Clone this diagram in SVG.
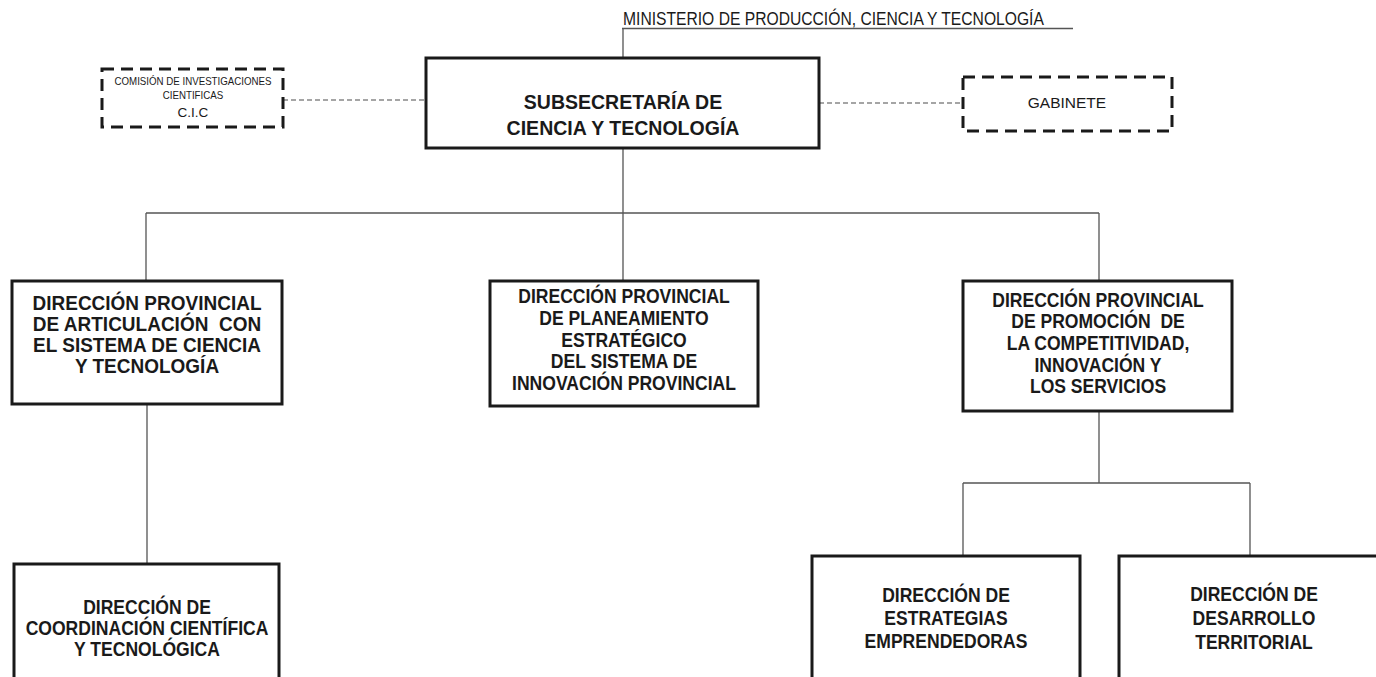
<svg xmlns="http://www.w3.org/2000/svg" width="1376" height="677" viewBox="0 0 1376 677">
<style>
.box{fill:#fff;stroke:#1a1a1a;stroke-width:3}
.dbox{fill:#fff;stroke:#1a1a1a;stroke-width:3;stroke-dasharray:12 7}
.ln{fill:none;stroke:#555;stroke-width:1.3}
.dl{fill:none;stroke:#888;stroke-width:1.5;stroke-dasharray:5 3}
.t{font-family:"Liberation Sans",Arial,sans-serif;font-weight:bold;fill:#1a1a1a;text-anchor:middle}
.r{font-family:"Liberation Sans",Arial,sans-serif;fill:#1a1a1a;text-anchor:middle}
.n{font-size:19.5px}
</style>
<rect width="1376" height="677" fill="#fff"/>
<g id="connectors">
<path class="ln" d="M622 28.5H1073M623 28.5V58"/>
<path class="ln" d="M623 148V281M146 213H1099M146 213V281M1099 213V281"/>
<path class="ln" d="M147 404V564M1099 411V483M963 483H1250M963 483V556M1250 483V556"/>
<path class="dl" d="M283 100H426M819 103H963"/>
</g>
<g id="ministerio">
<text class="r" transform="translate(623 25) scale(0.895 1)" style="text-anchor:start" font-size="17.5">MINISTERIO DE PRODUCCIÓN, CIENCIA Y TECNOLOGÍA</text>
</g>
<g id="subsecretaria">
<rect class="box" x="426" y="58" width="393" height="90"/>
<text class="t" transform="translate(623 109) scale(0.93 1)" font-size="21">SUBSECRETARÍA DE</text>
<text class="t" transform="translate(623 135) scale(0.93 1)" font-size="21">CIENCIA Y TECNOLOGÍA</text>
</g>
<g id="cic">
<rect class="dbox" x="102" y="69" width="181" height="58"/>
<text class="r" transform="translate(193 85) scale(0.9 1)" font-size="10.8">COMISIÓN DE INVESTIGACIONES</text>
<text class="r" transform="translate(193 99) scale(0.9 1)" font-size="10.8">CIENTIFICAS</text>
<text class="r" x="193" y="117" font-size="13.5">C.I.C</text>
</g>
<g id="gabinete">
<rect class="dbox" x="963" y="77" width="209" height="54"/>
<text class="r" x="1067" y="108" font-size="15.5">GABINETE</text>
</g>
<g id="dp-articulacion">
<rect class="box" x="12" y="281" width="270" height="123"/>
<text class="t" transform="translate(147 310) scale(0.95 1)" font-size="20">DIRECCIÓN PROVINCIAL</text>
<text class="t" transform="translate(147 331) scale(0.95 1)" font-size="20" xml:space="preserve">DE ARTICULACIÓN  CON</text>
<text class="t" transform="translate(147 352) scale(0.95 1)" font-size="20">EL SISTEMA DE CIENCIA</text>
<text class="t" transform="translate(147 373) scale(0.95 1)" font-size="20">Y TECNOLOGÍA</text>
</g>
<g id="dp-planeamiento">
<rect class="box" x="490" y="281" width="268" height="125"/>
<text class="t n" transform="translate(624 303) scale(0.9 1)">DIRECCIÓN PROVINCIAL</text>
<text class="t n" transform="translate(624 325) scale(0.9 1)">DE PLANEAMIENTO</text>
<text class="t n" transform="translate(624 347) scale(0.9 1)">ESTRATÉGICO</text>
<text class="t n" transform="translate(624 368) scale(0.9 1)">DEL SISTEMA DE</text>
<text class="t n" transform="translate(624 390) scale(0.9 1)">INNOVACIÓN PROVINCIAL</text>
</g>
<g id="dp-promocion">
<rect class="box" x="963" y="281" width="269" height="130"/>
<text class="t n" transform="translate(1098 307) scale(0.9 1)">DIRECCIÓN PROVINCIAL</text>
<text class="t n" transform="translate(1098 328) scale(0.9 1)" xml:space="preserve">DE PROMOCIÓN  DE</text>
<text class="t n" transform="translate(1098 350) scale(0.9 1)">LA COMPETITIVIDAD,</text>
<text class="t n" transform="translate(1098 372) scale(0.9 1)">INNOVACIÓN Y</text>
<text class="t n" transform="translate(1098 393) scale(0.9 1)">LOS SERVICIOS</text>
</g>
<g id="d-coordinacion">
<rect class="box" x="14" y="564" width="265" height="130"/>
<text class="t n" transform="translate(147 614) scale(0.9 1)">DIRECCIÓN DE</text>
<text class="t n" transform="translate(147 635) scale(0.9 1)">COORDINACIÓN CIENTÍFICA</text>
<text class="t n" transform="translate(147 656) scale(0.9 1)">Y TECNOLÓGICA</text>
</g>
<g id="d-estrategias">
<rect class="box" x="812" y="556" width="268" height="140"/>
<text class="t n" transform="translate(946 602) scale(0.9 1)">DIRECCIÓN DE</text>
<text class="t n" transform="translate(946 625) scale(0.9 1)">ESTRATEGIAS</text>
<text class="t n" transform="translate(946 648) scale(0.9 1)">EMPRENDEDORAS</text>
</g>
<g id="d-desarrollo">
<rect class="box" x="1119" y="556" width="270" height="140"/>
<text class="t n" transform="translate(1254 601) scale(0.9 1)">DIRECCIÓN DE</text>
<text class="t n" transform="translate(1254 625) scale(0.9 1)">DESARROLLO</text>
<text class="t n" transform="translate(1254 649) scale(0.9 1)">TERRITORIAL</text>
</g>
</svg>
